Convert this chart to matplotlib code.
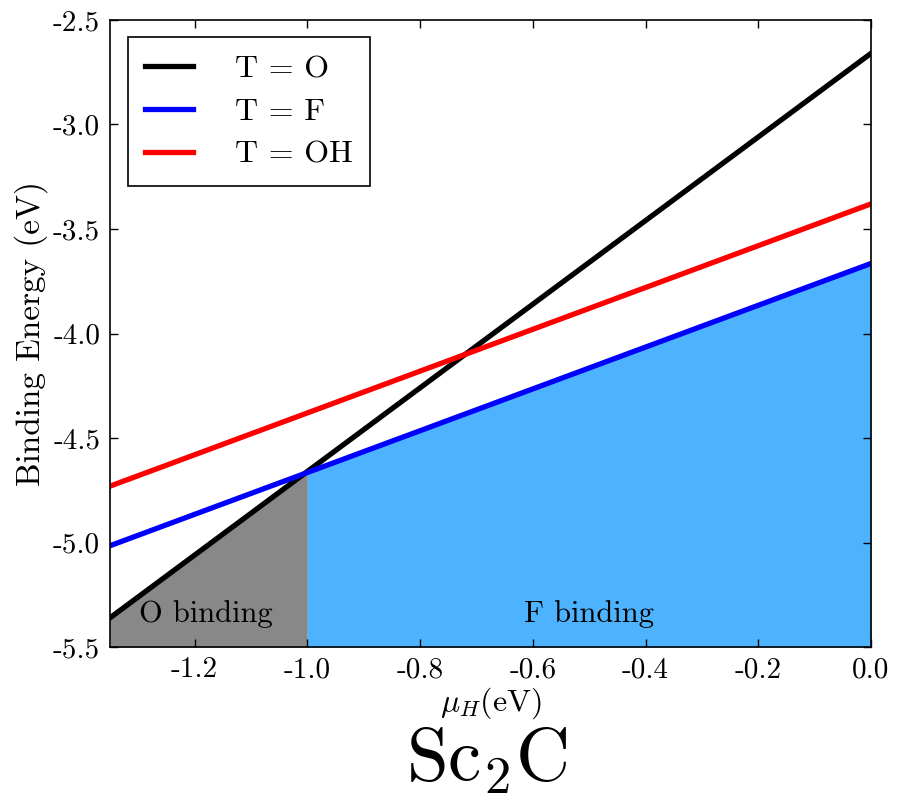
import matplotlib
matplotlib.use("Agg")
import matplotlib.pyplot as plt
import numpy as np

plt.rcParams['font.family'] = ['cmr10', 'DejaVu Serif']
plt.rcParams['mathtext.fontset'] = 'cm'
plt.rcParams['axes.formatter.use_mathtext'] = False
plt.rcParams['axes.unicode_minus'] = False

# chemical potential range and binding energies at the two ends
mu_h = np.array([-1.35, 0.0])
e_O = np.array([-5.36, -2.66])
e_F = np.array([-5.015, -3.665])
e_OH = np.array([-4.73, -3.38])
labels = ["T = O", "T = F", "T = OH"]
colors = ["black", "blue", "red"]
mu_cross = -1.0  # where O and F lines meet

fig = plt.figure(figsize=(8.97, 7.96), dpi=100)
ax = fig.add_axes([0.1226, 0.187, 0.8484, 0.788])

# shaded regions: O preferred left of the crossing, F preferred right of it
xg = np.array([mu_h[0], mu_cross])
ax.fill_between(xg, np.interp(xg, mu_h, e_O), -5.5, color="#888888", lw=0, zorder=1)
xb = np.array([mu_cross, mu_h[1]])
ax.fill_between(xb, np.interp(xb, mu_h, e_F), -5.5, color="#4db3ff", lw=0, zorder=1)

for e, lab, c in zip([e_O, e_F, e_OH], labels, colors):
    ax.plot(mu_h, e, '-', color=c, lw=3.8, label=lab, zorder=2)

ax.text(-1.18, -5.34, "O binding", fontsize=22, ha="center", va="center")
ax.text(-0.5, -5.34, "F binding", fontsize=22, ha="center", va="center")

xt = [-1.2, -1.0, -0.8, -0.6, -0.4, -0.2, 0.0]
yt = [-5.5, -5.0, -4.5, -4.0, -3.5, -3.0, -2.5]
ax.set_xlim(-1.35, 0.0)
ax.set_ylim(-5.5, -2.5)
ax.set_xticks(xt)
ax.set_yticks(yt)
ax.set_xticklabels(["%.1f" % v for v in xt])
ax.set_yticklabels(["%.1f" % v for v in yt])
ax.tick_params(direction="in", top=True, right=True, length=6, width=1, labelsize=21, pad=7)
for s in ax.spines.values():
    s.set_linewidth(1.2)

ax.set_ylabel("Binding Energy (eV)", fontsize=24, labelpad=4)
ax.set_xlabel(r"$\mu_H$(eV)", fontsize=23, labelpad=2)

leg = ax.legend(loc="upper left", fontsize=23, handlelength=1.5, handletextpad=1.3,
                borderpad=0.55, labelspacing=0.45, fancybox=False, framealpha=1,
                borderaxespad=0.55)
leg.get_frame().set_edgecolor("black")
leg.get_frame().set_linewidth(1.2)

fig.text(0.543, 0.0, r"$\mathrm{Sc_2C}$", fontsize=54, ha="center", va="bottom")

fig.savefig("out.png", dpi=100)
